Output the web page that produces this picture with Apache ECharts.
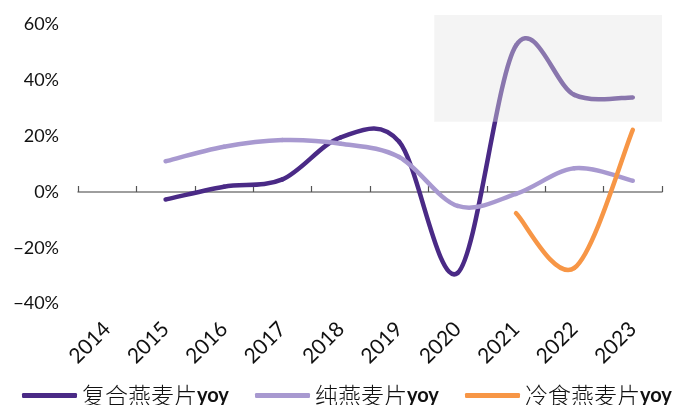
<!DOCTYPE html>
<html>
<head>
<meta charset="utf-8">
<script src="https://cdn.jsdelivr.net/npm/echarts@6/dist/echarts.min.js"></script>
<style>
  html, body { margin: 0; padding: 0; background: #ffffff; }
  #chart { width: 675px; height: 405px; }
</style>
</head>
<body>
<div id="chart"></div>
<script>
// Year-over-year growth of oatmeal categories (%)
const years = ['2014', '2015', '2016', '2017', '2018', '2019', '2020', '2021', '2022', '2023'];
const seriesNames = ['复合燕麦片yoy', '纯燕麦片yoy', '冷食燕麦片yoy'];
const compositeYoy = [null, -2.7, 1.9, 4.5, 19.6, 18, -29, 52.5, 34.8, 33.9];
const pureYoy = [null, 11, 16.2, 18.6, 17.3, 12.5, -5, -0.7, 8.5, 4];
const coldYoy = [null, null, null, null, null, null, null, -7.6, -27.2, 22.3];
const yTicks = [-40, -20, 0, 20, 40, 60];
// Highlighted window: category-index span and value span
const highlightSpan = [[5.6, 9.5, 25.2, 63.4]];

const palette = ['#4a2a86', '#a899d0', '#f79646'];
const axisFont = 'Lato, "Noto Sans", sans-serif';
const legendLefts = [17, 250, 460];

const chart = echarts.init(document.getElementById('chart'), null, { renderer: 'canvas' });

// Smooth curve through the points: each item draws the cubic segment to the next point,
// with control points from the neighbouring points (cardinal spline).
function splineSeries(values, name, color) {
  const pts = [];
  values.forEach((v, i) => { if (v != null) pts.push([i, v]); });
  return {
    name: name,
    type: 'custom',
    xAxisIndex: 2,
    yAxisIndex: 0,
    silent: true,
    z: 3,
    itemStyle: { color: color },
    encode: { x: 0, y: 1 },
    data: pts,
    renderItem: (params, api) => {
      const k = params.dataIndex;
      if (k >= pts.length - 1) return null;
      const P = j => api.coord(pts[Math.max(0, Math.min(pts.length - 1, j))]);
      const p0 = P(k - 1), p1 = P(k), p2 = P(k + 1), p3 = P(k + 2);
      const s = 1 / 6;
      return {
        type: 'bezierCurve',
        shape: {
          x1: p1[0], y1: p1[1],
          x2: p2[0], y2: p2[1],
          cpx1: p1[0] + (p2[0] - p0[0]) * s,
          cpy1: p1[1] + (p2[1] - p0[1]) * s,
          cpx2: p2[0] - (p3[0] - p1[0]) * s,
          cpy2: p2[1] - (p3[1] - p1[1]) * s
        },
        style: { stroke: color, lineWidth: 4.5, fill: null, lineCap: 'round' }
      };
    }
  };
}

const lineSeries = [compositeYoy, pureYoy, coldYoy].map((values, i) =>
  splineSeries(values, seriesNames[i], palette[i]));

const legends = seriesNames.map((name, i) => ({
  data: [name],
  left: legendLefts[i],
  top: 379,
  itemWidth: 55,
  itemHeight: 5,
  itemGap: 6,
  icon: 'roundRect',
  formatter: n => '{cn|' + n.replace('yoy', '') + '}{en|yoy}',
  textStyle: {
    color: '#111',
    rich: {
      cn: { fontFamily: '"Noto Sans CJK SC"', fontSize: 23, fontWeight: 300, color: '#111' },
      en: { fontFamily: axisFont, fontSize: 20, fontWeight: 'bold', color: '#111' }
    }
  }
}));

chart.setOption({
  animation: false,
  grid: { left: 78, right: 13, top: 13.4, bottom: 101.4, containLabel: false },
  legend: legends,
  xAxis: [
    {
      type: 'category',
      data: years,
      boundaryGap: true,
      position: 'bottom',
      axisLine: { onZero: true, lineStyle: { color: '#7f7f7f', width: 1.5 } },
      axisTick: { show: true, inside: true, length: 6, lineStyle: { color: '#555', width: 1.2 } },
      axisLabel: { show: false },
      splitLine: { show: false }
    },
    {
      type: 'category',
      data: years,
      boundaryGap: true,
      position: 'bottom',
      axisLine: { show: false, onZero: false },
      axisTick: { show: false },
      axisLabel: {
        rotate: 45,
        margin: 22,
        fontSize: 21,
        fontFamily: axisFont,
        color: '#111'
      },
      splitLine: { show: false }
    },
    {
      type: 'value',
      min: -0.5,
      max: 9.5,
      show: false
    }
  ],
  yAxis: {
    type: 'value',
    min: -40,
    max: 64,
    interval: 20,
    axisLine: { show: false, onZero: false },
    axisTick: { show: false },
    splitLine: { show: false },
    axisLabel: {
      margin: 19,
      fontSize: 18,
      fontFamily: axisFont,
      color: '#111',
      formatter: v => (yTicks.indexOf(v) >= 0 ? String(v).replace('-', '\u2212') + '%' : '')
    }
  },
  series: lineSeries.concat([
    {
      type: 'custom',
      xAxisIndex: 2,
      yAxisIndex: 0,
      silent: true,
      z: 10,
      encode: { x: [0, 1], y: [2, 3] },
      data: highlightSpan,
      renderItem: (params, api) => {
        const topLeft = api.coord([api.value(0), api.value(3)]);
        const bottomRight = api.coord([api.value(1), api.value(2)]);
        return {
          type: 'rect',
          shape: {
            x: topLeft[0],
            y: topLeft[1],
            width: bottomRight[0] - topLeft[0],
            height: bottomRight[1] - topLeft[1]
          },
          style: { fill: 'rgba(228,228,228,0.41)' }
        };
      }
    }
  ])
});
</script>
</body>
</html>
